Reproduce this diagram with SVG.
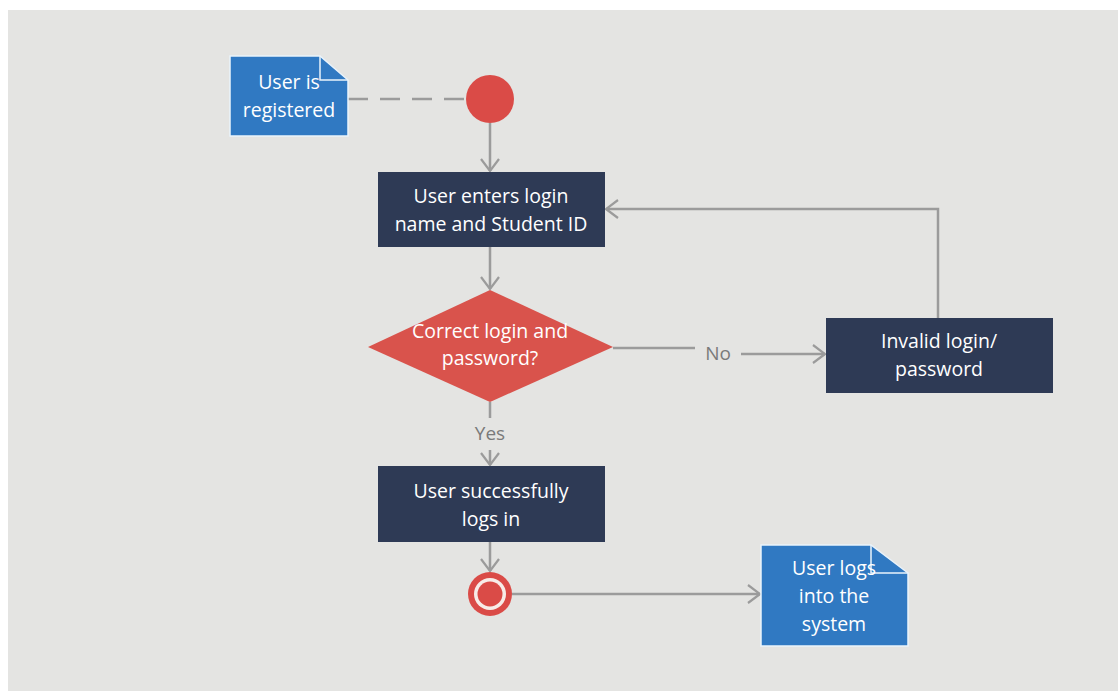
<svg xmlns="http://www.w3.org/2000/svg" width="1118" height="691" viewBox="0 0 1118 691">
<defs>
<style>
.t{font-family:"Open Sans","Liberation Sans",sans-serif;font-size:19.5px;fill:#ffffff;text-anchor:middle}
.lbl{font-family:"Open Sans","Liberation Sans",sans-serif;font-size:19px;fill:#7a7a7a;text-anchor:middle}
.e{stroke:#9b9b9b;stroke-width:2.5;fill:none}
.act{fill:#2e3a55}
.note{fill:#3079c2;stroke:#e9f3fb;stroke-width:1.5}
</style>
<marker id="arr" viewBox="0 0 14 20" refX="13" refY="10" markerWidth="14" markerHeight="20" markerUnits="userSpaceOnUse" orient="auto">
<path d="M1,1 L13,10 L1,19" fill="none" stroke="#9b9b9b" stroke-width="2.2"/>
</marker>
</defs>
<rect x="0" y="0" width="1118" height="691" fill="#ffffff"/>
<rect x="8" y="10" width="1110" height="681" fill="#e4e4e2"/>
<g id="connectors">
<line class="e" x1="348" y1="99" x2="466" y2="99" stroke-dasharray="20,12"/>
<line class="e" x1="490" y1="123" x2="490" y2="171" marker-end="url(#arr)"/>
<line class="e" x1="490" y1="247" x2="490" y2="289" marker-end="url(#arr)"/>
<line class="e" x1="613" y1="348" x2="695" y2="348"/>
<text class="lbl" x="718" y="360">No</text>
<line class="e" x1="741" y1="354" x2="825" y2="354" marker-end="url(#arr)"/>
<polyline class="e" points="938,318 938,209 606,209" marker-end="url(#arr)"/>
<line class="e" x1="490" y1="402" x2="490" y2="418"/>
<text class="lbl" x="490" y="440">Yes</text>
<line class="e" x1="490" y1="450" x2="490" y2="465" marker-end="url(#arr)"/>
<line class="e" x1="490" y1="542" x2="490" y2="571" marker-end="url(#arr)"/>
<line class="e" x1="512" y1="594" x2="760" y2="594" marker-end="url(#arr)"/>
</g>
<g id="note-registered">
<path class="note" d="M230,56 H320 L348,80 V136 H230 Z"/>
<path d="M320,56 V80 H348" fill="none" stroke="#e9f3fb" stroke-width="1.5"/>
<text class="t" x="289" y="89">User is</text>
<text class="t" x="289" y="117">registered</text>
</g>
<g id="start">
<circle cx="490" cy="99" r="24" fill="#da4b47"/>
</g>
<g id="enter-login">
<rect class="act" x="378" y="172" width="227" height="75"/>
<text class="t" x="491" y="203">User enters login</text>
<text class="t" x="491" y="231">name and Student ID</text>
</g>
<g id="decision">
<polygon points="490,290 613,347 490,402 368,347" fill="#d9534c"/>
<text class="t" x="490" y="338">Correct login and</text>
<text class="t" x="490" y="365">password?</text>
</g>
<g id="invalid">
<rect class="act" x="826" y="318" width="227" height="75"/>
<text class="t" x="939" y="348">Invalid login/</text>
<text class="t" x="939" y="376">password</text>
</g>
<g id="success">
<rect class="act" x="378" y="466" width="227" height="76"/>
<text class="t" x="491" y="498">User successfully</text>
<text class="t" x="491" y="526">logs in</text>
</g>
<g id="end">
<circle cx="490" cy="594" r="22" fill="#da4b47"/>
<circle cx="490" cy="594" r="16" fill="#f7ece8"/>
<circle cx="490" cy="594" r="12.5" fill="#da4b47"/>
</g>
<g id="note-system">
<path class="note" d="M761,545 H871 L908,573 V646 H761 Z"/>
<path d="M871,545 V573 H908" fill="none" stroke="#e9f3fb" stroke-width="1.5"/>
<text class="t" x="834" y="575">User logs</text>
<text class="t" x="834" y="603">into the</text>
<text class="t" x="834" y="631">system</text>
</g>
</svg>
